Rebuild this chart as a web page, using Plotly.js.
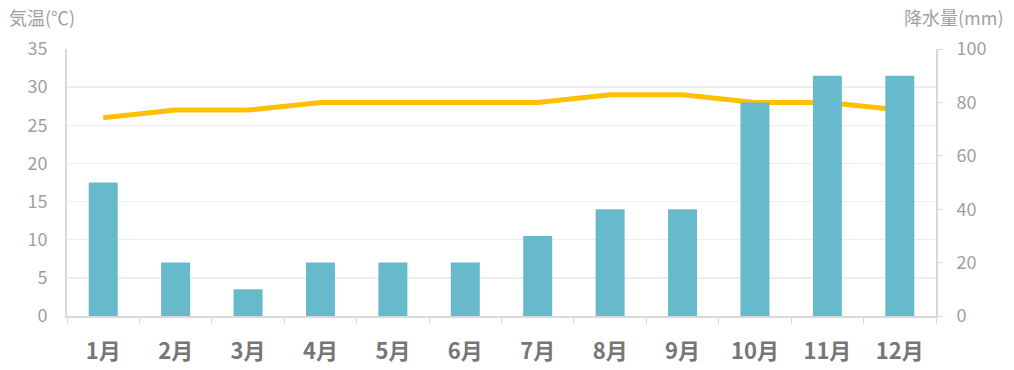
<!DOCTYPE html>
<html><head><meta charset="utf-8">
<script src="https://cdn.plot.ly/plotly-3.0.1.min.js"></script>
<style>html,body{margin:0;padding:0;background:#fff}#c{width:1014px;height:370px}</style>
</head><body><div id="c"></div>
<script>
const months = ["1月","2月","3月","4月","5月","6月","7月","8月","9月","10月","11月","12月"];
const temperature = [26,27,27,28,28,28,28,29,29,28,28,27];
const precipitation = [50,20,10,20,20,20,30,40,40,80,90,90];
const leftTitle = "気温(℃)";
const rightTitle = "降水量(mm)";
const F = "'Noto Sans CJK JP', 'Noto Sans', sans-serif";

const data = [
  {type:"bar", x:months, y:precipitation, yaxis:"y2", marker:{color:"#67b9cc"}, width:0.4, hoverinfo:"none"},
  {type:"scatter", mode:"lines", x:months, y:temperature, yaxis:"y", line:{color:"#ffc000", width:5}, hoverinfo:"none"}
];
const layout = {
  width:1014, height:370, showlegend:false,
  margin:{l:67, r:78, t:49, b:54},
  paper_bgcolor:"#fff", plot_bgcolor:"#fff",
  font:{family:F},
  xaxis:{type:"category", tickson:"boundaries", ticks:"outside", ticklen:6, tickcolor:"#d9d9d9",
    showline:true, linecolor:"#d9d9d9", linewidth:2, showgrid:false, ticklabelstandoff:15,
    tickfont:{size:22, color:"#767676", family:F, weight:"bold"}, range:[-0.5,11.5], fixedrange:true},
  yaxis:{range:[0,35], dtick:5, showline:true, linecolor:"#d9d9d9", linewidth:2,
    gridcolor:"#eeeeee", gridwidth:1.5, zeroline:false, ticks:"", ticklabelstandoff:14,
    tickfont:{size:18, color:"#a0a0a0", family:F}},
  yaxis2:{range:[0,100], dtick:20, overlaying:"y", side:"right", showline:true, linecolor:"#d9d9d9", linewidth:2,
    showgrid:false, zeroline:false, ticks:"outside", ticklen:5, tickcolor:"#d9d9d9", ticklabelstandoff:10,
    tickfont:{size:18, color:"#a0a0a0", family:F}},
  annotations:[
    {text:leftTitle, xref:"paper", yref:"paper", x:-67/869, y:1, xanchor:"left", yanchor:"bottom", xshift:7, yshift:17,
     showarrow:false, font:{size:18, color:"#a0a0a0", family:F}},
    {text:rightTitle, xref:"paper", yref:"paper", x:1, y:1, xanchor:"left", yanchor:"bottom", xshift:-34, yshift:17,
     showarrow:false, font:{size:18, color:"#a0a0a0", family:F}}
  ]
};
Plotly.newPlot("c", data, layout, {staticPlot:true});
</script></body></html>
